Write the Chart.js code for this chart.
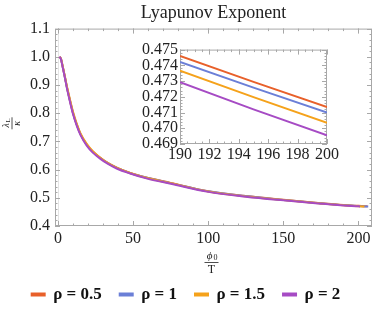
<!DOCTYPE html>
<html>
<head>
<meta charset="utf-8">
<script src="https://cdn.jsdelivr.net/npm/chart.js@4.4.1/dist/chart.umd.min.js"></script>
<style>
  html, body { margin: 0; padding: 0; background: #fff; }
  #wrap { position: relative; width: 374px; height: 310px; }
  #main { position: absolute; left: 0; top: 0; }
  #inset { position: absolute; left: 124px; top: 38px; }
</style>
</head>
<body>
<div id="wrap">
  <canvas id="main" width="374" height="310"></canvas>
  <canvas id="inset" width="216" height="132"></canvas>
</div>
<script>
// Lyapunov exponent vs phi0/T, main plot + zoomed inset

const rhoLabels = ['ρ = 0.5', 'ρ = 1', 'ρ = 1.5', 'ρ = 2'];
const colors = ['#E8602A', '#6B7FD7', '#F5A21B', '#A64BC4'];

// main curves
const phiMain = [1, 2, 3, 4.7, 6, 8, 10, 12.4, 15, 19, 23, 28, 33, 39, 47.5, 60, 75, 100, 125, 150, 175, 190, 200];
const phiEnd = [206, 206.5, 204, 201];
const lyapRho05 = [1.000, 0.992, 0.968, 0.925, 0.890, 0.843, 0.800, 0.760, 0.725, 0.689, 0.664, 0.642, 0.624, 0.607, 0.589, 0.570, 0.553, 0.523, 0.506, 0.493, 0.4810, 0.4746, 0.4714, 0.4696];
const lyapRho1 = [1.000, 0.992, 0.968, 0.925, 0.890, 0.844, 0.801, 0.761, 0.726, 0.690, 0.664, 0.642, 0.624, 0.607, 0.589, 0.570, 0.552, 0.523, 0.506, 0.492, 0.4806, 0.4742, 0.4710, 0.4690];
const lyapRho15 = [1.000, 0.993, 0.970, 0.928, 0.894, 0.848, 0.805, 0.764, 0.728, 0.692, 0.666, 0.643, 0.624, 0.607, 0.589, 0.569, 0.552, 0.522, 0.505, 0.492, 0.4800, 0.4737, 0.4703, 0.4690];
const lyapRho2 = [1.000, 0.991, 0.966, 0.923, 0.887, 0.840, 0.797, 0.757, 0.722, 0.686, 0.661, 0.639, 0.621, 0.604, 0.587, 0.567, 0.550, 0.521, 0.504, 0.491, 0.4793, 0.4729, 0.4696, 0.4693];

const xTicksMain = [0, 50, 100, 150, 200];
const yTicksMain = [0.4, 0.5, 0.6, 0.7, 0.8, 0.9, 1.0, 1.1];

// inset (190..200)
const phiInset = [190, 195, 200];
const insetRho05 = [0.47459, 0.47295, 0.47135];
const insetRho1 = [0.47421, 0.47258, 0.47100];
const insetRho15 = [0.47366, 0.47198, 0.47035];
const insetRho2 = [0.47293, 0.47120, 0.46955];

const xTicksInset = [190, 192, 194, 196, 198, 200];
const yTicksInset = [0.469, 0.470, 0.471, 0.472, 0.473, 0.474, 0.475];

const SERIF = "'Liberation Serif', 'Times New Roman', serif";

// Mathematica-like frame with inward ticks on all four sides
const frameTicks = {
    id: 'frameTicks',
    beforeDatasetsDraw(chart, args, opts) {
        const { ctx, chartArea: a, scales: { x, y } } = chart;
        ctx.save();
        if (opts.zeroX !== undefined) {
            const px = Math.round(x.getPixelForValue(opts.zeroX)) + 0.5;
            ctx.strokeStyle = '#e4e4e4';
            ctx.lineWidth = 1;
            ctx.beginPath(); ctx.moveTo(px, a.top); ctx.lineTo(px, a.bottom); ctx.stroke();
        }
        ctx.strokeStyle = opts.color;
        ctx.lineWidth = 1;
        ctx.strokeRect(a.left + 0.5, a.top + 0.5, a.width - 1, a.height - 1);

        const marks = (scale, step, len, horiz) => {
            const k0 = Math.ceil(scale.min / step - 1e-6), k1 = Math.floor(scale.max / step + 1e-6);
            ctx.beginPath();
            for (let k = k0; k <= k1; k++) {
                const p = Math.round(scale.getPixelForValue(k * step)) + 0.5;
                if (horiz) {
                    ctx.moveTo(p, a.bottom); ctx.lineTo(p, a.bottom - len);
                    ctx.moveTo(p, a.top); ctx.lineTo(p, a.top + len);
                } else {
                    ctx.moveTo(a.left, p); ctx.lineTo(a.left + len, p);
                    ctx.moveTo(a.right, p); ctx.lineTo(a.right - len, p);
                }
            }
            ctx.stroke();
        };
        marks(x, opts.xMajor, 5, true);
        marks(x, opts.xMinor, 2.5, true);
        marks(y, opts.yMajor, 5, false);
        marks(y, opts.yMinor, 2.5, false);
        ctx.restore();
    }
};

// fraction axis labels (lambda_L / kappa, phi0 / T)
const fractionLabels = {
    id: 'fractionLabels',
    afterDraw(chart) {
        const { ctx, chartArea: a } = chart;
        ctx.save();
        ctx.fillStyle = '#222';
        ctx.strokeStyle = '#222';
        ctx.lineWidth = 0.8;
        ctx.textAlign = 'center';
        ctx.textBaseline = 'middle';

        // y title, rotated
        ctx.save();
        ctx.translate(12, (a.top + a.bottom) / 2 - 4);
        ctx.rotate(-Math.PI / 2);
        ctx.font = 'italic 10px ' + SERIF;
        ctx.fillText('λ', -2, -5.5);
        ctx.font = '7px ' + SERIF;
        ctx.fillText('L', 3, -3.5);
        ctx.beginPath(); ctx.moveTo(-6, 0); ctx.lineTo(6, 0); ctx.stroke();
        ctx.font = 'italic 10px ' + SERIF;
        ctx.fillText('κ', 0, 5.5);
        ctx.restore();

        // x title
        const cx = (a.left + a.right) / 2 - 2;
        const by = a.bottom + 36;
        ctx.font = 'italic 11px ' + SERIF;
        ctx.fillText('ϕ', cx - 2, by - 6);
        ctx.font = '8px ' + SERIF;
        ctx.fillText('0', cx + 4, by - 4);
        ctx.beginPath(); ctx.moveTo(cx - 7, by + 0.5); ctx.lineTo(cx + 7, by + 0.5); ctx.stroke();
        ctx.font = '12px ' + SERIF;
        ctx.fillText('T', cx, by + 7.5);
        ctx.restore();
    }
};

const mkData = (xs, ys) => xs.map((v, i) => ({ x: v, y: ys[i] }));
const mainSeries = [lyapRho05, lyapRho1, lyapRho15, lyapRho2];
const insetSeries = [insetRho05, insetRho1, insetRho15, insetRho2];

const LEGEND_SHIFT = 3;

new Chart(document.getElementById('main'), {
    type: 'line',
    data: {
        datasets: mainSeries.map((ys, i) => ({
            label: rhoLabels[i],
            data: mkData([...phiMain, phiEnd[i]], ys),
            borderColor: colors[i],
            backgroundColor: colors[i],
            borderWidth: 2,
            pointRadius: 0,
            order: mainSeries.length - i, // last series drawn on top
            cubicInterpolationMode: 'monotone'
        }))
    },
    options: {
        responsive: false,
        devicePixelRatio: 1,
        animation: false,
        layout: { padding: { left: 0, right: 2, top: 0, bottom: -LEGEND_SHIFT } },
        scales: {
            x: {
                type: 'linear', min: -2, max: 209,
                afterBuildTicks: s => { s.ticks = xTicksMain.map(v => ({ value: v })); },
                afterFit: s => { s.height = s.chart.height + LEGEND_SHIFT - 226 - s.chart.legend.height; },
                grid: { display: false, drawTicks: false },
                border: { display: false },
                ticks: { font: { family: SERIF, size: 16 }, color: '#222', padding: 3, maxRotation: 0 }
            },
            y: {
                type: 'linear', min: 0.4, max: 1.1,
                afterBuildTicks: s => { s.ticks = yTicksMain.map(v => ({ value: v })); },
                afterFit: s => { s.width = 55; },
                grid: { display: false, drawTicks: false },
                border: { display: false },
                ticks: { font: { family: SERIF, size: 16 }, color: '#222', padding: 5, callback: v => v.toFixed(1) }
            }
        },
        plugins: {
            title: {
                display: true, text: 'Lyapunov Exponent', fullSize: false,
                font: { family: SERIF, size: 18, weight: 'normal' }, color: '#222',
                padding: { top: 2, bottom: 5 }
            },
            legend: {
                position: 'bottom',
                labels: {
                    boxWidth: 13, boxHeight: 2, padding: 18,
                    sort: (a, b) => a.datasetIndex - b.datasetIndex,
                    font: { family: SERIF, size: 17, weight: 'bold' }, color: '#111'
                }
            },
            tooltip: { enabled: false },
            frameTicks: { color: '#a8a8a8', xMajor: 50, xMinor: 10, yMajor: 0.1, yMinor: 0.02, zeroX: 0 }
        }
    },
    plugins: [frameTicks, fractionLabels]
});

new Chart(document.getElementById('inset'), {
    type: 'line',
    data: {
        datasets: insetSeries.map((ys, i) => ({
            label: rhoLabels[i],
            data: mkData(phiInset, ys),
            borderColor: colors[i],
            borderWidth: 2,
            pointRadius: 0
        }))
    },
    options: {
        responsive: false,
        devicePixelRatio: 1,
        animation: false,
        layout: { padding: { left: 0, right: 6, top: 10, bottom: 0 } },
        scales: {
            x: {
                type: 'linear', min: 190, max: 200,
                afterBuildTicks: s => { s.ticks = xTicksInset.map(v => ({ value: v })); },
                afterFit: s => { s.height = 26; },
                grid: { display: false, drawTicks: false },
                border: { display: false },
                ticks: { font: { family: SERIF, size: 16 }, color: '#222', padding: 1, maxRotation: 0, autoSkip: false }
            },
            y: {
                type: 'linear', min: 0.469, max: 0.475,
                afterBuildTicks: s => { s.ticks = yTicksInset.map(v => ({ value: v })); },
                afterFit: s => { s.width = 56; },
                grid: { display: false, drawTicks: false },
                border: { display: false },
                ticks: { font: { family: SERIF, size: 16 }, color: '#222', padding: 2, autoSkip: false, callback: v => v.toFixed(3) }
            }
        },
        plugins: {
            legend: { display: false },
            tooltip: { enabled: false },
            frameTicks: { color: '#a8a8a8', xMajor: 2, xMinor: 0.5, yMajor: 0.001, yMinor: 0.0002 }
        }
    },
    plugins: [frameTicks]
});
</script>
</body>
</html>
